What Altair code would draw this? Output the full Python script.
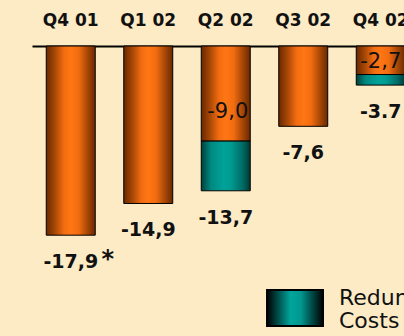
import altair as alt
import pandas as pd

# Quarterly result (EUR m), split into operating part and redundancy costs
quarters = ["Q4 01", "Q1 02", "Q2 02", "Q3 02", "Q4 02"]
operating = [-17.9, -14.9, -9.0, -7.6, -2.7]
redundancy = [0.0, 0.0, -4.7, 0.0, -1.0]
decimal_sep = [",", ",", ",", ",", "."]
footnote = ["*", "", "", "", ""]
legend_label = "Redundancy\nCosts"

df = pd.DataFrame({"quarter": quarters, "operating": operating, "redundancy": redundancy})
df["total"] = (df["operating"] + df["redundancy"]).round(1)
df["total_label"] = [f"{v:.1f}".replace(".", s) for v, s in zip(df["total"], decimal_sep)]
df["operating_label"] = [f"{v:.1f}".replace(".", ",") for v in df["operating"]]
df["note"] = footnote

BG = "#FCEBC5"
FONT = "DejaVu Sans"

orange = alt.Gradient(
    gradient="linear", x1=0, x2=1, y1=0, y2=0,
    stops=[
        alt.GradientStop(color="#6A2800", offset=0),
        alt.GradientStop(color="#A84806", offset=0.18),
        alt.GradientStop(color="#F26C10", offset=0.36),
        alt.GradientStop(color="#FF7614", offset=0.5),
        alt.GradientStop(color="#F26C10", offset=0.66),
        alt.GradientStop(color="#A84806", offset=0.84),
        alt.GradientStop(color="#6A2800", offset=1),
    ],
)
teal = alt.Gradient(
    gradient="linear", x1=0, x2=1, y1=0, y2=0,
    stops=[
        alt.GradientStop(color="#00403C", offset=0),
        alt.GradientStop(color="#008A82", offset=0.2),
        alt.GradientStop(color="#00A298", offset=0.45),
        alt.GradientStop(color="#009C92", offset=0.6),
        alt.GradientStop(color="#006A64", offset=0.85),
        alt.GradientStop(color="#003834", offset=1),
    ],
)
teal_swatch = alt.Gradient(
    gradient="linear", x1=0, x2=1, y1=0, y2=0,
    stops=[
        alt.GradientStop(color="#000000", offset=0),
        alt.GradientStop(color="#00A59C", offset=0.42),
        alt.GradientStop(color="#009890", offset=0.6),
        alt.GradientStop(color="#000000", offset=1),
    ],
)

x = alt.X(
    "quarter:N",
    sort=quarters,
    scale=alt.Scale(range=[32, 419.5], paddingInner=0.368, paddingOuter=0.184),
    axis=alt.Axis(
        orient="top", title=None, labelAngle=0, ticks=False, tickSize=0,
        domainColor="black", domainWidth=2, labelPadding=21,
        labelBaseline="alphabetic", labelFont=FONT, labelFontSize=17,
        labelFontWeight="bold", labelColor="#111111", grid=False,
    ),
)
yscale = alt.Scale(domain=[-27.44, 0], nice=False, zero=False)

base = alt.Chart(df)

op_bars = base.mark_bar(fill=orange, stroke="black", strokeWidth=1).encode(
    x=x,
    y=alt.Y("operating:Q", scale=yscale, axis=None),
    y2=alt.datum(0),
)
red_bars = base.transform_filter("datum.redundancy != 0").mark_bar(
    fill=teal, stroke="black", strokeWidth=1
).encode(x=x, y=alt.Y("operating:Q", scale=yscale, axis=None), y2="total:Q")

text_style = dict(font=FONT, color="#111111", align="center", baseline="alphabetic")

total_text = base.mark_text(dy=33, fontSize=19, fontWeight="bold", **text_style).encode(
    x=x, y=alt.Y("total:Q", scale=yscale), text="total_label:N"
)
note_text = base.transform_filter("datum.note != ''").mark_text(
    dx=37, dy=32, fontSize=24, fontWeight="bold", **text_style
).encode(x=x, y=alt.Y("total:Q", scale=yscale), text="note:N")

inner_q2 = base.transform_filter("datum.quarter == 'Q2 02'").mark_text(
    dy=-23, dx=2, fontSize=21, **text_style
).encode(x=x, y=alt.Y("operating:Q", scale=yscale), text="operating_label:N")
inner_q4 = base.transform_filter("datum.quarter == 'Q4 02'").mark_text(
    dy=-7, fontSize=21, **text_style
).encode(x=x, y=alt.Y("operating:Q", scale=yscale), text="operating_label:N")

legend_df = pd.DataFrame({"series": [legend_label]})
legend_box = alt.Chart(legend_df).mark_rect(fill=teal_swatch, stroke="black", strokeWidth=2).encode(
    x=alt.value(267), x2=alt.value(323), y=alt.value(244), y2=alt.value(280)
)
legend_text = alt.Chart(legend_df).mark_text(
    font=FONT, fontSize=22, color="#111111", align="left", baseline="alphabetic",
    lineBreak="\n", lineHeight=23,
).encode(x=alt.value(339), y=alt.value(259), text="series:N")

chart = (
    alt.layer(op_bars, red_bars, total_text, note_text, inner_q2, inner_q4, legend_box, legend_text)
    .properties(
        width=404, height=290, background=BG,
        autosize=alt.AutoSizeParams(type="none"),
        padding={"left": 0, "top": 46, "right": 0, "bottom": 0},
    )
    .configure_view(strokeWidth=0)
)

chart.save("out.html", embed_options={"renderer": "svg", "actions": False})
